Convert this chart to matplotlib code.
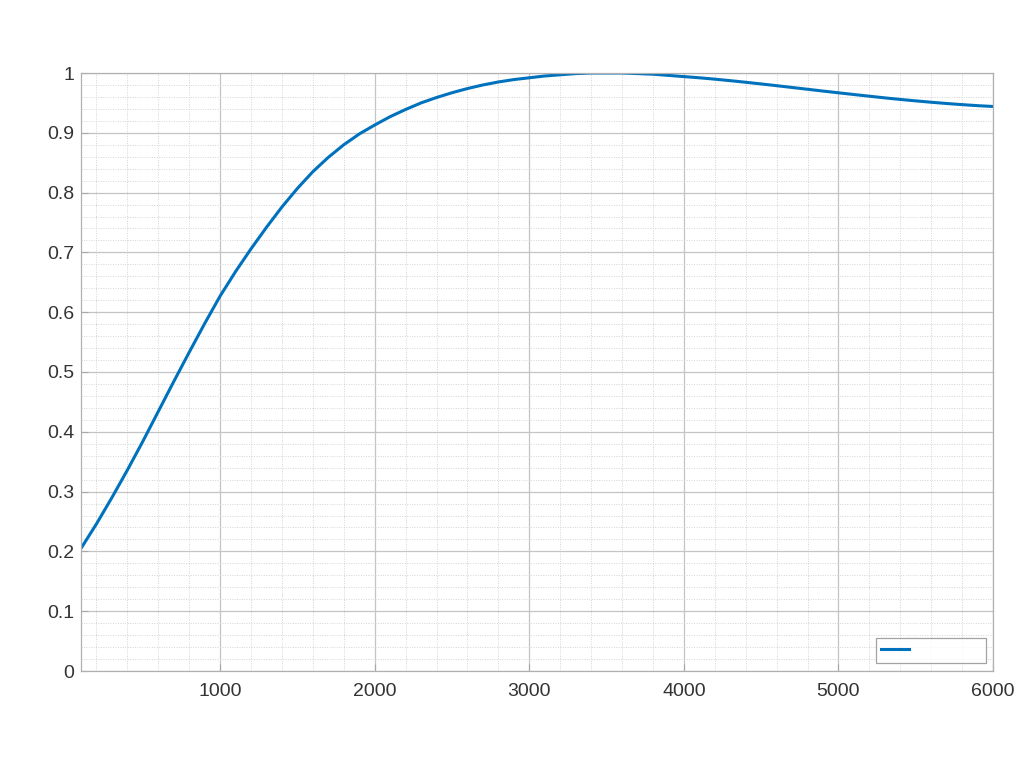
import matplotlib
matplotlib.use("Agg")
import matplotlib.pyplot as plt
from matplotlib.ticker import MultipleLocator, FixedLocator
from matplotlib.lines import Line2D

# Data
x_vals = [100, 200, 300, 400, 500, 600, 700, 800, 900, 1000,
          1100, 1200, 1300, 1400, 1500, 1600, 1700, 1800, 1900, 2000,
          2100, 2200, 2300, 2400, 2500, 2600, 2700, 2800, 2900, 3000,
          3100, 3200, 3300, 3400, 3500, 3600, 3700, 3800, 3900, 4000,
          4100, 4200, 4300, 4400, 4500, 4600, 4700, 4800, 4900, 5000,
          5100, 5200, 5300, 5400, 5500, 5600, 5700, 5800, 5900, 6000]
y_vals = [0.205, 0.246, 0.290, 0.336, 0.384, 0.434, 0.484, 0.533, 0.581, 0.627,
          0.668, 0.706, 0.742, 0.776, 0.807, 0.835, 0.859, 0.880, 0.898, 0.913,
          0.927, 0.939, 0.950, 0.959, 0.967, 0.974, 0.980, 0.985, 0.989, 0.992,
          0.995, 0.997, 0.999, 1.000, 1.000, 1.000, 0.999, 0.998, 0.996, 0.994,
          0.9920, 0.9897, 0.9872, 0.9845, 0.9817, 0.9788, 0.9758, 0.9728, 0.9698, 0.9669,
          0.9640, 0.9612, 0.9584, 0.9558, 0.9534, 0.9511, 0.9490, 0.9471, 0.9454, 0.9440]
x_ticks = [1000, 2000, 3000, 4000, 5000, 6000]
x_tick_labels = ["1000", "2000", "3000", "4000", "5000", "6000"]
y_ticks = [0, 0.1, 0.2, 0.3, 0.4, 0.5, 0.6, 0.7, 0.8, 0.9, 1.0]
y_tick_labels = ["0", "0.1", "0.2", "0.3", "0.4", "0.5", "0.6", "0.7", "0.8", "0.9", "1"]
legend_label = "              "

plt.rcParams['font.family'] = ['Liberation Sans', 'DejaVu Sans']

fig = plt.figure(figsize=(10.24, 7.68), dpi=100)
ax = fig.add_axes([81/1024, 1 - 671/768, (993 - 81)/1024, (671 - 73)/768])

line_color = '#0072BD'
ax.plot(x_vals, y_vals, color=line_color, lw=2.2, solid_capstyle='butt',
        solid_joinstyle='round')

ax.set_xlim(100, 6000)
ax.set_ylim(0, 1)
ax.xaxis.set_major_locator(FixedLocator(x_ticks))
ax.set_xticklabels(x_tick_labels)
ax.yaxis.set_major_locator(FixedLocator(y_ticks))
ax.set_yticklabels(y_tick_labels)
ax.xaxis.set_minor_locator(MultipleLocator(200))
ax.yaxis.set_minor_locator(MultipleLocator(0.02))

ax.grid(True, which='major', color='#c4c4c4', lw=0.9, ls='-')
ax.grid(True, which='minor', color='#d4d4d4', lw=0.7, ls=(0, (1, 1.5)))
ax.set_axisbelow(True)

for sp in ax.spines.values():
    sp.set_color('#b0b0b0')
    sp.set_linewidth(0.9)

ax.tick_params(which='both', direction='in', colors='#a8a8a8', labelcolor='#333333',
               labelsize=14, top=False, right=False)
ax.tick_params(which='major', length=5)
ax.tick_params(axis='x', which='major', pad=9)
ax.tick_params(axis='y', which='major', pad=5)
ax.tick_params(which='minor', length=0)

handle = Line2D([], [], color=line_color, lw=2.2)
leg = ax.legend([handle], [legend_label], loc='lower right', fontsize=11,
                handlelength=1.8, frameon=True, fancybox=False,
                borderaxespad=0.0, borderpad=0.35, handletextpad=0.8,
                bbox_to_anchor=((986 - 81) / 912, (671 - 663) / 598))
leg.get_frame().set_edgecolor('#8c8c8c')
leg.get_frame().set_linewidth(0.9)

fig.savefig('out.png', dpi=100, facecolor='white')
